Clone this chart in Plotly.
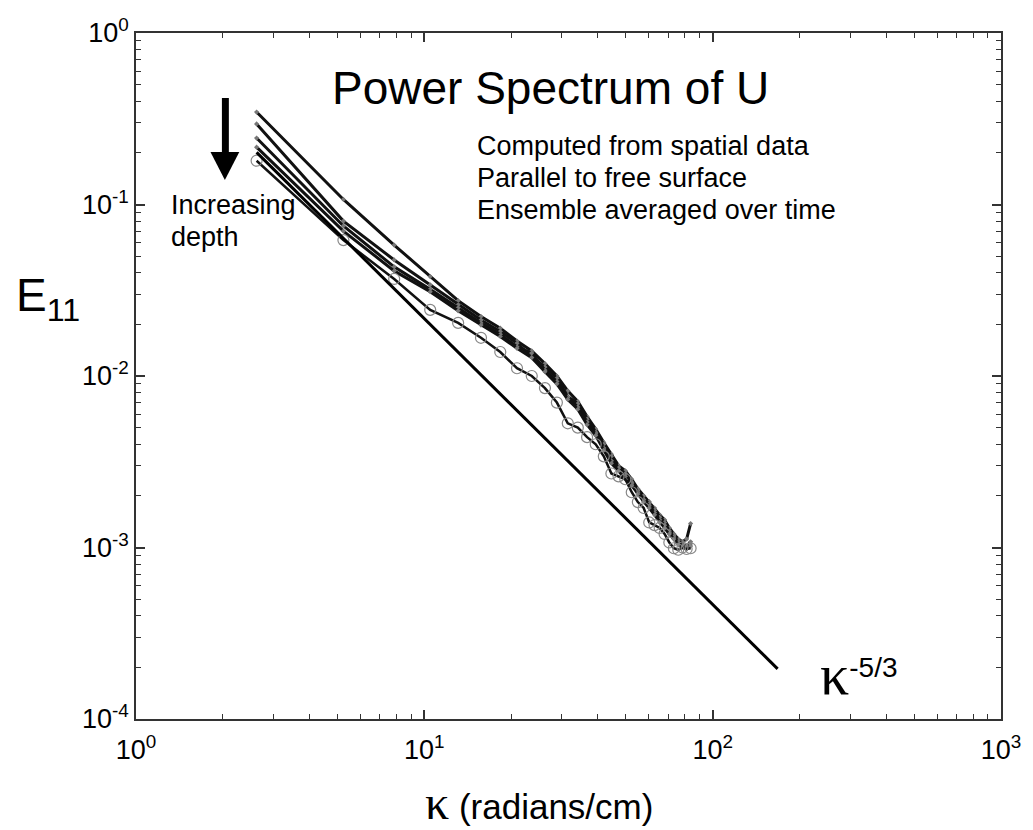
import plotly.graph_objects as go

# wavenumber (radians/cm)
kappa = [2.62, 5.24, 7.86, 10.48, 13.10, 15.72, 18.34, 20.96, 23.58, 26.20,
         28.82, 31.44, 34.06, 36.68, 39.30, 41.92, 44.54, 47.16, 49.78, 52.40,
         55.02, 57.64, 60.26, 62.88, 65.50, 68.12, 70.74, 73.36, 75.98, 78.60,
         81.22, 83.84]

# E11 at increasing depth
depth1 = [0.346, 0.107, 0.058, 0.038, 0.0275, 0.0222, 0.0190, 0.0160, 0.0140, 0.0118,
          0.0100, 0.0082, 0.0071, 0.0058, 0.0049, 0.0041, 0.0035, 0.0030, 0.0028, 0.0025,
          0.0022, 0.0020, 0.00185, 0.0017, 0.00155, 0.00145, 0.0013, 0.0012, 0.00112, 0.00108,
          0.00112, 0.00138]
depth2 = [0.295, 0.080, 0.0475, 0.034, 0.026, 0.0212, 0.0182, 0.0155, 0.0130, 0.0113,
          0.0097, 0.0076, 0.0069, 0.0056, 0.0047, 0.0040, 0.0034, 0.0029, 0.0027, 0.0024,
          0.00215, 0.0019, 0.0018, 0.00165, 0.0015, 0.0014, 0.00125, 0.00118, 0.0011, 0.00104,
          0.00102, 0.00108]
depth3 = [0.244, 0.075, 0.0433, 0.032, 0.025, 0.0204, 0.0175, 0.0148, 0.0136, 0.0108,
          0.0093, 0.0075, 0.0066, 0.0054, 0.0046, 0.0038, 0.0032, 0.0029, 0.0026, 0.00235,
          0.0021, 0.0019, 0.00175, 0.0016, 0.00145, 0.00135, 0.00122, 0.00115, 0.00107, 0.00102,
          0.00100, 0.00105]
depth4 = [0.216, 0.070, 0.0410, 0.031, 0.024, 0.0198, 0.0170, 0.0145, 0.0128, 0.0106,
          0.0090, 0.0073, 0.0064, 0.0052, 0.0045, 0.0037, 0.0031, 0.0028, 0.0025, 0.0023,
          0.00205, 0.00185, 0.0017, 0.00155, 0.0014, 0.0013, 0.0012, 0.00112, 0.00104, 0.0010,
          0.00098, 0.00102]
depth5 = [0.180, 0.062, 0.0368, 0.0243, 0.0204, 0.0167, 0.0138, 0.0111, 0.0100, 0.0085,
          0.0070, 0.0053, 0.0050, 0.0044, 0.0040, 0.0034, 0.0027, 0.0026, 0.0025, 0.0021,
          0.00184, 0.0017, 0.0014, 0.00135, 0.0013, 0.0012, 0.00107, 0.00099, 0.00097, 0.0010,
          0.00098, 0.00099]

# kappa^-5/3 reference line
ref_kappa = [2.62, 168.0]
ref_E = [0.2015, 0.000196]

x_tickvals = [1, 10, 100, 1000]
x_ticktext = ["10<sup>0</sup>", "10<sup>1</sup>", "10<sup>2</sup>", "10<sup>3</sup>"]
y_tickvals = [1e-4, 1e-3, 1e-2, 1e-1, 1]
y_ticktext = ["10<sup>-4</sup>", "10<sup>-3</sup>", "10<sup>-2</sup>", "10<sup>-1</sup>", "10<sup>0</sup>"]

x_minor = [m * 10 ** d for d in range(0, 3) for m in range(2, 10)]
y_minor = [m * 10.0 ** d for d in range(-4, 0) for m in range(2, 10)]

FONT = "Liberation Sans, Arial, sans-serif"

fig = go.Figure()
for vals in [depth1, depth2, depth3, depth4]:
    fig.add_trace(go.Scatter(
        x=kappa, y=vals, mode="lines+markers",
        line=dict(color="#111111", width=3),
        marker=dict(symbol="diamond", size=4, color="#777777"),
        showlegend=False, hoverinfo="skip"))
fig.add_trace(go.Scatter(
    x=kappa, y=depth5, mode="lines+markers",
    line=dict(color="#111111", width=2.5),
    marker=dict(symbol="circle-open", size=11, color="#888888", line=dict(width=1.2)),
    showlegend=False, hoverinfo="skip"))
fig.add_trace(go.Scatter(
    x=ref_kappa, y=ref_E, mode="lines",
    line=dict(color="#000000", width=3),
    showlegend=False, hoverinfo="skip"))

L, R, T, B = 136, 1007, 33, 719
W, H = R - L, B - T


def px(x):
    return (x - L) / W


def py(y):
    return (B - y) / H


axis_common = dict(
    type="log", showgrid=False, zeroline=False,
    showline=True, linecolor="#333333", linewidth=1.5, mirror="ticks",
    ticks="inside", ticklen=9, tickwidth=1.5, tickcolor="#333333",
    tickfont=dict(family=FONT, size=27, color="#000000"),
)

fig.update_layout(
    width=1033, height=830,
    margin=dict(l=L, r=1033 - R, t=T, b=830 - B),
    paper_bgcolor="white", plot_bgcolor="white",
    font=dict(family=FONT, color="#000000"),
    xaxis=dict(range=[0, 3], tickmode="array", tickvals=x_tickvals, ticktext=x_ticktext,
               ticklabelstandoff=6,
               minor=dict(tickmode="array", tickvals=x_minor, ticks="inside", ticklen=5,
                          tickwidth=1, tickcolor="#333333", showgrid=False),
               **axis_common),
    yaxis=dict(range=[-4, 0], tickmode="array", tickvals=y_tickvals, ticktext=y_ticktext,
               minor=dict(tickmode="array", tickvals=y_minor, ticks="inside", ticklen=5,
                          tickwidth=1, tickcolor="#333333", showgrid=False),
               **axis_common),
)

annotations = [
    dict(text="Power Spectrum of U", x=px(553), y=py(88), xanchor="center", yanchor="middle",
         font=dict(size=46, family=FONT)),
    dict(text="Computed from spatial data", x=px(477), y=py(146), xanchor="left", yanchor="middle",
         font=dict(size=27, family=FONT)),
    dict(text="Parallel to free surface", x=px(477), y=py(178), xanchor="left", yanchor="middle",
         font=dict(size=27, family=FONT)),
    dict(text="Ensemble averaged over time", x=px(477), y=py(210), xanchor="left", yanchor="middle",
         font=dict(size=27, family=FONT)),
    dict(text="Increasing", x=px(169), y=py(205), xanchor="left", yanchor="middle",
         font=dict(size=27, family=FONT)),
    dict(text="depth", x=px(169), y=py(237), xanchor="left", yanchor="middle",
         font=dict(size=27, family=FONT)),
    dict(text="E<sub>11</sub>", x=px(13), y=py(298), xanchor="left", yanchor="middle",
         font=dict(size=46, family=FONT)),
    dict(text='<span style="font-family:Liberation Serif;font-size:48px">κ</span> (radians/cm)',
         x=px(425), y=py(803), xanchor="left", yanchor="middle",
         font=dict(size=35, family=FONT)),
    dict(text='<span style="font-family:Liberation Serif;font-size:58px">κ</span><sup>-5/3</sup>',
         x=px(823), y=py(674), xanchor="left", yanchor="middle",
         font=dict(size=40, family=FONT)),
]
for a in annotations:
    a.update(xref="paper", yref="paper", showarrow=False)
fig.update_layout(annotations=annotations)

# downward arrow
fig.add_shape(type="rect", xref="paper", yref="paper",
              x0=px(222.5), x1=px(229.5), y0=py(155), y1=py(98),
              fillcolor="black", line=dict(width=0))
fig.add_shape(type="path", xref="paper", yref="paper",
              path=f"M {px(211)} {py(152)} L {px(240)} {py(152)} L {px(225.5)} {py(180)} Z",
              fillcolor="black", line=dict(width=0))

fig.write_html("out.html")
